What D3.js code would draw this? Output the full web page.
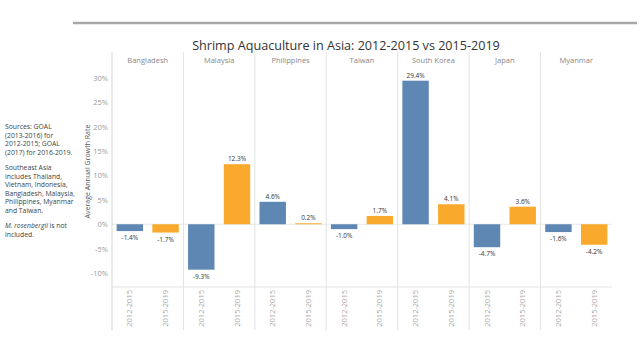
<!DOCTYPE html>
<html><head><meta charset="utf-8">
<script src="https://cdn.jsdelivr.net/npm/d3@7"></script>
<style>body{margin:0;background:#fff}svg{display:block}text{font-family:"Open Sans",sans-serif}</style>
</head><body><svg id="c" width="640" height="340"></svg>
<script>
const countries = ["Bangladesh","Malaysia","Philippines","Taiwan","South Korea","Japan","Myanmar"];
const periods = ["2012-2015","2015-2019"];
const rate1215 = [-1.4,-9.3,4.6,-1.0,29.4,-4.7,-1.6];
const rate1519 = [-1.7,12.3,0.2,1.7,4.1,3.6,-4.2];
const yTicks = [-10,-5,0,5,10,15,20,25,30];
const colors = ["#5e87b4","#f9aa2c"];
const notes = [
  ["Sources: GOAL"],["(2013-2016) for"],["2012-2015; GOAL"],["(2017) for 2016-2019."],null,
  ["Southeast Asia"],["includes Thailand,"],["Vietnam, Indonesia,"],["Bangladesh, Malaysia,"],["Philippines, Myanmar"],["and Taiwan."],null,
  ["M. rosenbergii","is not",true],["included."]
];

const svg = d3.select("#c");
const pLeft = 112, pRight = 612, pTop = 52, plotBottom = 287, axisBottom = 330;

svg.append("line").attr("x1",73).attr("x2",637).attr("y1",23).attr("y2",23)
  .attr("stroke","#a8a8a8").attr("stroke-width",2.5);

svg.append("text").attr("x",346).attr("y",50).attr("text-anchor","middle")
  .attr("font-size",12.6).attr("fill","#333").text("Shrimp Aquaculture in Asia: 2012-2015 vs 2015-2019");

const x0 = d3.scaleBand().domain(countries).range([pLeft,pRight]);
const x1 = d3.scaleBand().domain(periods).range([0,x0.bandwidth()]).paddingInner(0.26).paddingOuter(0.13);
const y = d3.scaleLinear().domain([-12.85,32]).range([plotBottom,pTop+16]);

// grid / frame
const g = svg.append("g");
g.append("line").attr("x1",pLeft).attr("x2",pRight).attr("y1",y(0)).attr("y2",y(0)).attr("stroke","#e8e8e8");
g.append("line").attr("x1",pLeft).attr("x2",pRight).attr("y1",plotBottom).attr("y2",plotBottom).attr("stroke","#e3e3e3");
countries.forEach((c,i)=>{
  g.append("line").attr("x1",x0(c)).attr("x2",x0(c)).attr("y1",pTop).attr("y2",axisBottom)
    .attr("stroke", i===0 ? "#d6d6d6" : "#e3e3e3");
});

// headers
svg.append("g").selectAll("text").data(countries).join("text")
  .attr("x",d=>x0(d)+x0.bandwidth()/2).attr("y",63).attr("text-anchor","middle")
  .attr("font-size",7.5).attr("fill","#888").text(d=>d);

// y axis
const yAxis = d3.axisLeft(y).tickValues(yTicks).tickFormat(d=>d+"%").tickSize(0).tickPadding(4);
const ya = svg.append("g").attr("transform",`translate(${pLeft},0)`).call(yAxis);
ya.select(".domain").remove();
ya.selectAll("text").attr("font-size",7.5).attr("fill","#999").attr("font-family","Open Sans, sans-serif");

svg.append("text").attr("transform",`translate(90,${(pTop+plotBottom)/2+2}) rotate(-90)`)
  .attr("text-anchor","middle").attr("font-size",7).attr("fill","#555").text("Average Annual Growth Rate");

// bars
const data = [];
countries.forEach((c,i)=>{ data.push({c,p:periods[0],v:rate1215[i],k:0}); data.push({c,p:periods[1],v:rate1519[i],k:1}); });
svg.append("g").selectAll("rect").data(data).join("rect")
  .attr("x",d=>x0(d.c)+x1(d.p)).attr("width",x1.bandwidth())
  .attr("y",d=>y(Math.max(0,d.v))).attr("height",d=>Math.max(1,Math.abs(y(d.v)-y(0))))
  .attr("fill",d=>colors[d.k]);

svg.append("g").selectAll("text").data(data).join("text")
  .attr("x",d=>x0(d.c)+x1(d.p)+x1.bandwidth()/2)
  .attr("y",d=>d.v>=0 ? y(d.v)-3 : y(d.v)+9)
  .attr("text-anchor","middle").attr("font-size",6.5).attr("fill","#333")
  .text(d=>d.v.toFixed(1)+"%");

// x labels
svg.append("g").selectAll("text").data(data).join("text")
  .attr("transform",d=>`translate(${x0(d.c)+x1(d.p)+x1.bandwidth()/2+2.5},${plotBottom+3}) rotate(-90)`)
  .attr("text-anchor","end").attr("font-size",7.5).attr("fill","#aaa").text(d=>d.p);

// notes
let ny = 129;
const nt = svg.append("g");
notes.forEach(n=>{
  if(!n){ ny += 7; return; }
  const t = nt.append("text").attr("x",5).attr("y",ny).attr("font-size",6.8).attr("fill","#444");
  if(n[2]){ t.append("tspan").attr("font-style","italic").text(n[0]); t.append("tspan").text(" "+n[1]); }
  else t.text(n[0]);
  ny += 8.5;
});
</script></body></html>
